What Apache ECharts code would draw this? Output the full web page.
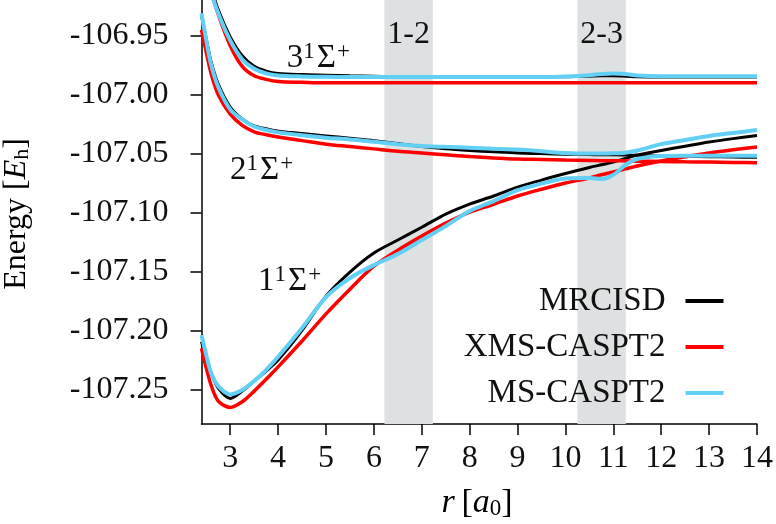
<!DOCTYPE html>
<html><head><meta charset="utf-8">
<script src="https://cdn.jsdelivr.net/npm/echarts@6/dist/echarts.min.js"></script>
<style>html,body{margin:0;padding:0;background:#fff}#c{width:776px;height:524px}</style>
</head><body><div id="c"></div>
<script>
// bond distance r [a0]
const r = [2.4, 2.5, 2.6, 2.75, 3.0, 3.25, 3.5, 3.75, 4.0, 4.5, 5.0, 5.5, 6.0, 6.5, 7.0, 7.5, 8.0, 8.5, 9.0, 9.5, 10.0, 10.5, 10.75, 11.0, 11.25, 11.5, 12.0, 12.5, 13.0, 13.5, 14.0];

// MRCISD
const mrcisd_1 = [-107.2096,-107.224,-107.236,-107.249,-107.2577,-107.2515,-107.243,-107.2345,-107.2252,-107.2,-107.1709,-107.1505,-107.1343,-107.1233,-107.1125,-107.1013,-107.0928,-107.086,-107.0784,-107.0725,-107.0669,-107.0618,-107.0595,-107.0572,-107.0542,-107.0512,-107.0474,-107.0437,-107.0402,-107.0373,-107.0347];
const mrcisd_2 = [-106.9325,-106.953,-106.972,-106.991,-107.0105,-107.0205,-107.0265,-107.029,-107.031,-107.033,-107.035,-107.037,-107.039,-107.0415,-107.044,-107.046,-107.0474,-107.0485,-107.0495,-107.05,-107.0505,-107.0508,-107.051,-107.051,-107.0512,-107.0515,-107.052,-107.0523,-107.0526,-107.0529,-107.0532];
const mrcisd_3 = [-106.86,-106.886,-106.908,-106.928,-106.951,-106.967,-106.976,-106.98,-106.982,-106.983,-106.9835,-106.984,-106.9843,-106.9848,-106.9848,-106.9848,-106.9848,-106.9848,-106.9848,-106.9848,-106.9848,-106.9843,-106.984,-106.984,-106.9843,-106.9848,-106.985,-106.985,-106.985,-106.985,-106.985];

// XMS-CASPT2
const xms_1 = [-107.2152,-107.232,-107.2465,-107.26,-107.2653,-107.2605,-107.2515,-107.2415,-107.2309,-107.209,-107.186,-107.165,-107.1455,-107.132,-107.12,-107.109,-107.0996,-107.093,-107.086,-107.0803,-107.075,-107.0707,-107.068,-107.0656,-107.063,-107.0605,-107.0563,-107.0527,-107.0495,-107.0468,-107.0444];
const xms_2 = [-106.945,-106.964,-106.982,-107.0,-107.0165,-107.026,-107.0315,-107.034,-107.036,-107.039,-107.042,-107.044,-107.046,-107.048,-107.0495,-107.051,-107.0525,-107.0537,-107.0546,-107.055,-107.0555,-107.0558,-107.056,-107.056,-107.0562,-107.0564,-107.0567,-107.057,-107.0572,-107.0575,-107.0577];
const xms_3 = [-106.87,-106.893,-106.912,-106.932,-106.9585,-106.976,-106.984,-106.987,-106.9888,-106.9895,-106.99,-106.99,-106.99,-106.99,-106.99,-106.99,-106.99,-106.99,-106.99,-106.99,-106.99,-106.99,-106.99,-106.99,-106.99,-106.99,-106.99,-106.99,-106.99,-106.99,-106.99];

// MS-CASPT2
const ms_1 = [-107.204,-107.221,-107.236,-107.2473,-107.2543,-107.2506,-107.243,-107.2335,-107.2224,-107.198,-107.1717,-107.1556,-107.1446,-107.1352,-107.1233,-107.1115,-107.0987,-107.0903,-107.081,-107.0755,-107.0712,-107.0708,-107.0716,-107.068,-107.0597,-107.0546,-107.052,-107.0518,-107.0518,-107.0518,-107.0518];
const ms_2 = [-106.931,-106.954,-106.9745,-106.9935,-107.0125,-107.021,-107.027,-107.03,-107.032,-107.0345,-107.0365,-107.038,-107.04,-107.042,-107.0436,-107.0443,-107.045,-107.0458,-107.0466,-107.048,-107.0495,-107.05,-107.05,-107.0497,-107.0492,-107.0474,-107.042,-107.0385,-107.035,-107.0325,-107.03];
const ms_3 = [-106.865,-106.89,-106.912,-106.931,-106.954,-106.97,-106.978,-106.982,-106.9837,-106.9845,-106.9848,-106.985,-106.985,-106.985,-106.985,-106.985,-106.985,-106.985,-106.985,-106.985,-106.9845,-106.9835,-106.9825,-106.982,-106.9825,-106.9838,-106.9843,-106.9843,-106.9843,-106.9843,-106.9843];

const methods = ['MRCISD', 'XMS-CASPT2', 'MS-CASPT2'];
const xTicks = [3, 4, 5, 6, 7, 8, 9, 10, 11, 12, 13, 14];
const yTicks = [-107.25, -107.20, -107.15, -107.10, -107.05, -107.00, -106.95];
const bands = [['1-2', 6.22, 7.23], ['2-3', 10.25, 11.26]];

const F = 'Liberation Serif';
const TXT = '#111';
const colors = {'MRCISD': '#000000', 'XMS-CASPT2': '#ff0000', 'MS-CASPT2': '#62cff4'};
const widths = {'MRCISD': 3, 'XMS-CASPT2': 3.5, 'MS-CASPT2': 4};

const zip = ys => r.map((x, i) => [x, ys[i]]);
const groups = [
  ['MRCISD', [mrcisd_1, mrcisd_2, mrcisd_3]],
  ['XMS-CASPT2', [xms_1, xms_2, xms_3]],
  ['MS-CASPT2', [ms_1, ms_2, ms_3]]
];
const series = [];
groups.forEach(([name, arrs], gi) => {
  arrs.forEach((ys) => {
    series.push({
      type: 'line', name: name, data: zip(ys), smooth: 0.3, showSymbol: false, symbol: 'none',
      clip: true, z: 3 + gi,
      lineStyle: {color: colors[name], width: widths[name]},
      itemStyle: {color: colors[name]},
      emphasis: {disabled: true}
    });
  });
});
series[0].markArea = {
  silent: true,
  itemStyle: {color: '#dde1e1'},
  label: {show: true, position: 'insideTop', distance: 19, fontFamily: F, fontSize: 32, color: TXT},
  data: bands.map(b => [{name: b[0], xAxis: b[1]}, {xAxis: b[2]}])
};

const chart = echarts.init(document.getElementById('c'), null, {renderer: 'canvas'});
const stateRich = {
  a: {fontFamily: F, fontSize: 33, color: TXT, lineHeight: 36},
  g: {fontFamily: F, fontSize: 33, color: TXT, lineHeight: 36, padding: [0, 1, 0, 2]},
  s: {fontFamily: F, fontSize: 23, color: TXT, lineHeight: 34, verticalAlign: 'top'}
};
function stateLabel(n, x, y) {
  return {type: 'text', left: x, top: y - 18, z: 100,
    style: {text: '{a|' + n + '}{s|1}{g|\u03A3}{s|+}', rich: stateRich, fill: TXT}};
}
chart.setOption({
  animation: false,
  backgroundColor: '#fff',
  grid: {left: 201.5, right: 17.7, top: 0, bottom: 100, containLabel: false},
  xAxis: {
    type: 'value', min: 2.4, max: 14,
    axisLine: {show: true, onZero: false, lineStyle: {color: '#000', width: 1.5}},
    axisTick: {show: true, length: 11, lineStyle: {color: '#000', width: 1.5}, customValues: xTicks},
    axisLabel: {customValues: xTicks, fontFamily: F, fontSize: 32, color: TXT, margin: 19},
    splitLine: {show: false}
  },
  yAxis: {
    type: 'value', min: -107.2794, max: -106.9197,
    axisLine: {show: true, onZero: false, lineStyle: {color: '#000', width: 1.5}},
    axisTick: {show: true, length: 11, lineStyle: {color: '#000', width: 1.5}, customValues: yTicks},
    axisLabel: {customValues: yTicks, formatter: v => v.toFixed(2), fontFamily: F, fontSize: 32, color: TXT, margin: 33},
    splitLine: {show: false}
  },
  legend: {
    data: methods, orient: 'vertical', right: 47.5, top: 279, align: 'right',
    itemWidth: 38, itemHeight: 4, itemGap: 12, icon: 'rect', selectedMode: false,
    textStyle: {fontFamily: F, fontSize: 33, color: TXT, lineHeight: 34, padding: [0, 15, 0, 0]}
  },
  graphic: [
    stateLabel('3', 286.7, 58.7),
    stateLabel('2', 230, 170.5),
    stateLabel('1', 258, 281),
    {type: 'text', x: 17, y: 214, rotation: Math.PI / 2, z: 100,
      style: {text: '{n|Energy [}{i|E}{b|h}{n|]}', align: 'center', verticalAlign: 'middle',
        rich: {n: {fontFamily: F, fontSize: 32, color: TXT},
               i: {fontFamily: F, fontSize: 32, fontStyle: 'italic', color: TXT},
               b: {fontFamily: F, fontSize: 22, color: TXT, verticalAlign: 'bottom', lineHeight: 27}}}},
    {type: 'text', x: 477, y: 503, z: 100,
      style: {text: '{i|r}  {n|[}{i|a}{b|0}{n|]}', align: 'center', verticalAlign: 'middle',
        rich: {n: {fontFamily: F, fontSize: 34, color: TXT},
               i: {fontFamily: F, fontSize: 34, fontStyle: 'italic', color: TXT},
               b: {fontFamily: F, fontSize: 23, color: TXT, verticalAlign: 'bottom', lineHeight: 28}}}}
  ],
  series: series
});
</script>
</body></html>
